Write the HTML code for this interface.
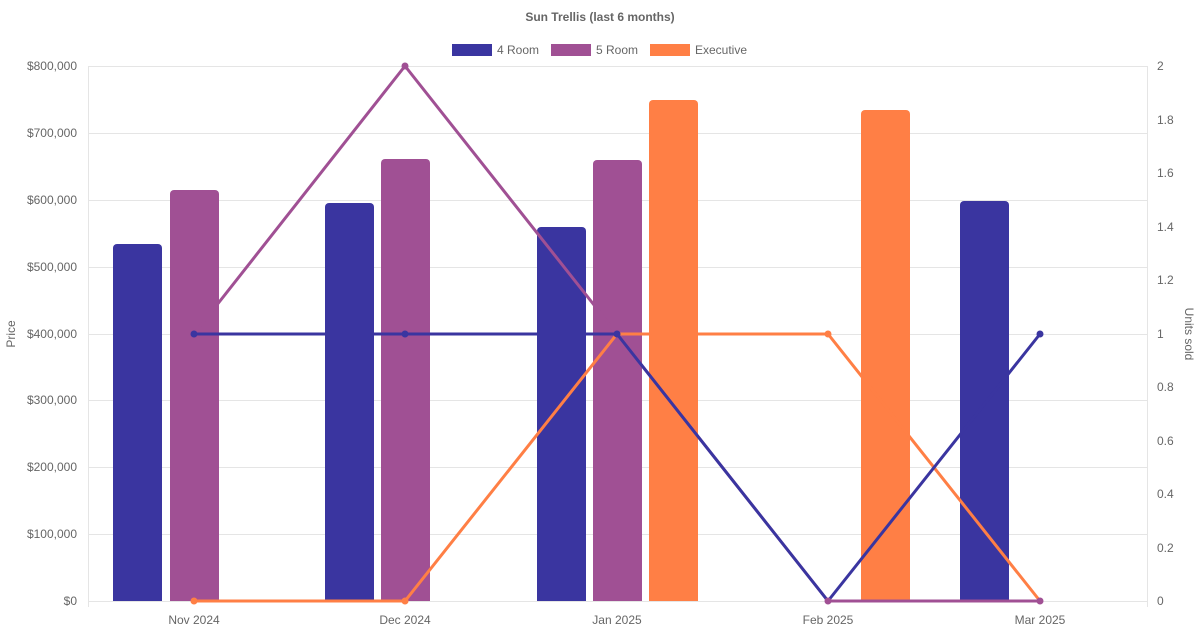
<!DOCTYPE html>
<html><head><meta charset="utf-8"><style>
body{margin:0;background:#fff;}
svg{display:block;font-family:"Liberation Sans",Arial,sans-serif;}
</style></head><body>
<svg width="1200" height="630" viewBox="0 0 1200 630">
<text x="600" y="21" text-anchor="middle" font-size="12" font-weight="bold" fill="#666">Sun Trellis (last 6 months)</text>
<rect x="452" y="44" width="40" height="12" fill="#3a35a0"/><text x="497" y="54" font-size="12" fill="#666">4 Room</text>
<rect x="551" y="44" width="40" height="12" fill="#a05094"/><text x="596" y="54" font-size="12" fill="#666">5 Room</text>
<rect x="650" y="44" width="40" height="12" fill="#ff7f45"/><text x="695" y="54" font-size="12" fill="#666">Executive</text>
<g stroke="#e5e5e5" stroke-width="1">
<line x1="88" y1="66.5" x2="1147" y2="66.5"/><line x1="88" y1="133.5" x2="1147" y2="133.5"/><line x1="88" y1="200.5" x2="1147" y2="200.5"/><line x1="88" y1="267.5" x2="1147" y2="267.5"/><line x1="88" y1="334.5" x2="1147" y2="334.5"/><line x1="88" y1="400.5" x2="1147" y2="400.5"/><line x1="88" y1="467.5" x2="1147" y2="467.5"/><line x1="88" y1="534.5" x2="1147" y2="534.5"/><line x1="88" y1="601.5" x2="1147" y2="601.5"/>
<line x1="88.5" y1="66" x2="88.5" y2="607"/><line x1="1147.5" y1="66" x2="1147.5" y2="607"/>
</g>
<g font-size="12" fill="#666" text-anchor="end">
<text x="77" y="70">$800,000</text><text x="77" y="137">$700,000</text><text x="77" y="204">$600,000</text><text x="77" y="271">$500,000</text><text x="77" y="338">$400,000</text><text x="77" y="404">$300,000</text><text x="77" y="471">$200,000</text><text x="77" y="538">$100,000</text><text x="77" y="605">$0</text>
</g>
<g font-size="12" fill="#666">
<text x="1157" y="70">2</text><text x="1157" y="124">1.8</text><text x="1157" y="177">1.6</text><text x="1157" y="231">1.4</text><text x="1157" y="284">1.2</text><text x="1157" y="338">1</text><text x="1157" y="391">0.8</text><text x="1157" y="445">0.6</text><text x="1157" y="498">0.4</text><text x="1157" y="552">0.2</text><text x="1157" y="605">0</text>
</g>
<g font-size="12" fill="#666" text-anchor="middle">
<text x="194" y="624">Nov 2024</text><text x="405" y="624">Dec 2024</text><text x="617" y="624">Jan 2025</text><text x="828" y="624">Feb 2025</text><text x="1040" y="624">Mar 2025</text>
</g>
<text transform="translate(15,334) rotate(-90)" text-anchor="middle" font-size="12" fill="#666">Price</text>
<text transform="translate(1185,334) rotate(90)" text-anchor="middle" font-size="12" fill="#666">Units sold</text>
<g>
<path d="M113,601V248a4,4 0 0 1 4,-4h41a4,4 0 0 1 4,4V601z" fill="#3a35a0"/>
<path d="M170,601V194a4,4 0 0 1 4,-4h41a4,4 0 0 1 4,4V601z" fill="#a05094"/>
<path d="M325,601V207a4,4 0 0 1 4,-4h41a4,4 0 0 1 4,4V601z" fill="#3a35a0"/>
<path d="M381,601V163a4,4 0 0 1 4,-4h41a4,4 0 0 1 4,4V601z" fill="#a05094"/>
<path d="M537,601V231a4,4 0 0 1 4,-4h41a4,4 0 0 1 4,4V601z" fill="#3a35a0"/>
<path d="M593,601V164a4,4 0 0 1 4,-4h41a4,4 0 0 1 4,4V601z" fill="#a05094"/>
<path d="M649,601V104a4,4 0 0 1 4,-4h41a4,4 0 0 1 4,4V601z" fill="#ff7f45"/>
<path d="M861,601V114a4,4 0 0 1 4,-4h41a4,4 0 0 1 4,4V601z" fill="#ff7f45"/>
<path d="M960,601V205a4,4 0 0 1 4,-4h41a4,4 0 0 1 4,4V601z" fill="#3a35a0"/>
</g>
<g fill="none" stroke-width="3">
<polyline points="194,601 405,601 617,334 828,334 1040,601" stroke="#ff7f45"/>
<polyline points="194,334 405,66 617,334 828,601 1040,601" stroke="#a05094"/>
<polyline points="194,334 405,334 617,334 828,601 1040,334" stroke="#3a35a0"/>
</g>
<g fill="#ff7f45"><circle cx="194" cy="601" r="3.5"/><circle cx="405" cy="601" r="3.5"/><circle cx="828" cy="334" r="3.5"/></g>
<g fill="#a05094"><circle cx="405" cy="66" r="3.5"/><circle cx="1040" cy="601" r="3.5"/><circle cx="828" cy="601" r="3.5"/></g>
<g fill="#3a35a0"><circle cx="194" cy="334" r="3.5"/><circle cx="405" cy="334" r="3.5"/><circle cx="617" cy="334" r="3.5"/><circle cx="1040" cy="334" r="3.5"/></g>
</svg>
</body></html>
